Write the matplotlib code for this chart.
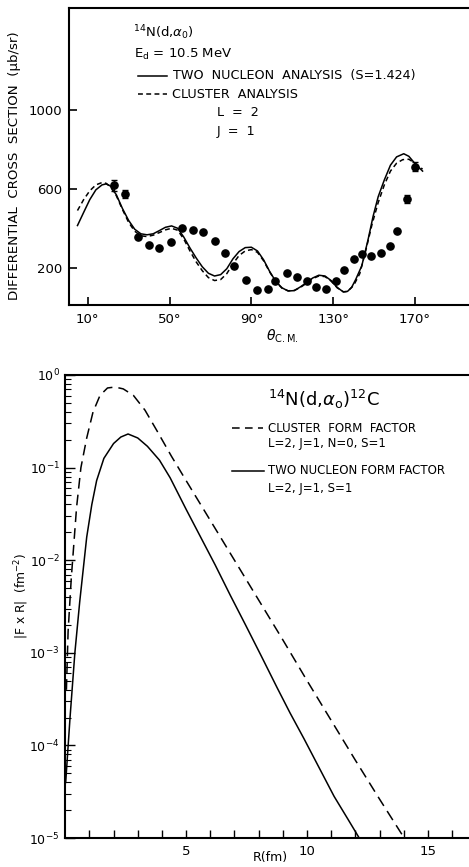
import numpy as np
import matplotlib
matplotlib.use("Agg")
import matplotlib.pyplot as plt
from matplotlib.ticker import FixedLocator, NullFormatter, LogLocator

# ---------------- data: top panel ----------------
exp_theta = [22.9, 28.4, 34.4, 39.8, 44.9, 50.8, 56.1, 61.6, 66.6, 72.4, 77.3, 81.5,
             87.5, 92.7, 97.9, 101.6, 107.4, 112.4, 117.3, 121.7, 126.7, 131.4, 135.2,
             140.1, 144.1, 148.3, 153.2, 157.9, 161.1, 166.0, 170.2]
exp_sigma = [617, 575, 355, 317, 299, 332, 400, 393, 380, 334, 275, 208,
             138, 87, 91, 133, 172, 152, 133, 104, 94, 133, 189,
             245, 270, 258, 273, 309, 388, 549, 713]
err_theta = [22.9, 28.4, 166.0, 170.2]
err_sigma = [617, 575, 549, 713]
err_size = [28, 20, 20, 22]

two_theta = [5, 8, 11, 14, 17, 19, 21, 24, 27, 30, 33, 36, 39, 42, 45, 48, 51, 54, 57,
             60, 63, 66, 69, 72, 75, 78, 81, 84, 87, 90, 93, 96, 99, 102, 105, 108, 111,
             114, 117, 120, 123, 126, 129, 132, 135, 137, 139, 141, 144, 147, 149.5, 152,
             155, 158, 161, 164.5, 167, 170, 173.7]
two_sigma = [414, 480, 545, 595, 620, 625, 615, 570, 500, 440, 395, 372, 367, 372, 388,
             405, 412, 400, 355, 300, 250, 205, 172, 158, 165, 195, 245, 282, 302, 304,
             285, 240, 180, 130, 98, 82, 84, 103, 125, 148, 162, 158, 135, 100, 77, 80,
             100, 140, 210, 340, 460, 560, 645, 720, 762, 778, 765, 728, 690]

clu_theta = [5, 8, 11, 14, 17, 19, 21, 24, 27, 30, 33, 36, 39, 42, 45, 48, 51, 54, 57,
             60, 63, 66, 69, 72, 75, 78, 81, 84, 87, 90, 93, 96, 99, 102, 105, 108, 111,
             114, 117, 120, 123, 126, 129, 132, 135, 137, 140, 143, 146, 149, 152, 155,
             158, 161, 164, 167, 170, 173.7]
clu_sigma = [490, 545, 590, 620, 632, 628, 612, 565, 495, 430, 385, 362, 358, 365, 378,
             392, 400, 390, 345, 285, 230, 185, 150, 135, 140, 170, 220, 262, 285, 292,
             278, 235, 178, 128, 96, 83, 85, 100, 122, 145, 158, 155, 132, 98, 78, 80,
             110, 170, 290, 420, 530, 620, 690, 730, 748, 750, 730, 700]

top_yticks = [200, 600, 1000]
top_xticks = [10, 50, 90, 130, 170]
top_xticklabels = ["10°", "50°", "90°", "130°", "170°"]

# ---------------- data: bottom panel ----------------
ff_two_R = [0.02, 0.2, 0.4, 0.6, 0.89, 1.1, 1.3, 1.6, 2.0, 2.3, 2.6, 3.0, 3.4, 3.9,
            4.34, 5.0, 5.6, 6.2, 6.83, 7.46, 8.1, 8.77, 9.3, 9.88, 10.5, 11.12, 11.7, 12.16]
ff_two_log = [-4.4, -3.7, -3.0, -2.45, -1.75, -1.4, -1.14, -0.9, -0.74, -0.67, -0.637,
              -0.68, -0.77, -0.92, -1.11, -1.45, -1.75, -2.05, -2.38, -2.70, -3.03,
              -3.38, -3.65, -3.93, -4.24, -4.55, -4.80, -5.0]

ff_clu_R = [0.05, 0.12, 0.25, 0.47, 0.65, 0.89, 1.15, 1.44, 1.75, 2.06, 2.4, 2.82, 3.3,
            3.79, 4.4, 5.0, 6.0, 7.0, 8.0, 9.0, 10.0, 11.0, 12.0, 13.0, 14.02]
ff_clu_log = [-3.4, -2.77, -2.2, -1.43, -1.0, -0.68, -0.4, -0.22, -0.14, -0.13, -0.15,
              -0.22, -0.38, -0.6, -0.88, -1.14, -1.57, -2.0, -2.43, -2.86, -3.3, -3.73,
              -4.16, -4.58, -5.0]

bot_xticks_major = [5, 10, 15]

# ---------------- figure ----------------
W, H = 469, 867
fig = plt.figure(figsize=(W / 100, H / 100), dpi=100)
plt.rcParams['font.family'] = ['DejaVu Sans']

def fx(px):
    return px / W

def fy(py):
    return 1 - py / H

# top axes
axT = fig.add_axes([fx(69), fy(305), 1 - fx(69), fy(8) - fy(305)])
axT.set_xlim(0.86, 196.4)
axT.set_ylim(11, 1517)
axT.plot(two_theta, two_sigma, color='black', lw=1.1, solid_joinstyle='round')
axT.plot(clu_theta, clu_sigma, color='black', lw=1.1, ls=(0, (3.2, 2.2)))
axT.plot(exp_theta, exp_sigma, 'o', color='black', ms=5.2)
axT.errorbar(err_theta, err_sigma, yerr=err_size, fmt='none', ecolor='black',
             elinewidth=1.0, capsize=2.5)
axT.spines['right'].set_visible(False)
for s in ['left', 'bottom', 'top']:
    axT.spines[s].set_linewidth(1.5)
axT.set_yticks(top_yticks)
axT.set_yticklabels([str(v) for v in top_yticks])
axT.set_xticks(top_xticks)
axT.set_xticklabels(top_xticklabels)
axT.tick_params(axis='both', direction='in', length=6, width=1.2, labelsize=9.5, pad=6)
axT.tick_params(axis='y', pad=5)
axT.tick_params(top=False, right=False)

fig.text(fx(15), fy(166), "DIFFERENTIAL  CROSS  SECTION  (μb/sr)", rotation=90,
         ha='center', va='center', fontsize=9.6)
fig.text(fx(266), fy(336), r"$\theta_{\rm C.M.}$", ha='left', va='center', fontsize=10)

# top annotations
fig.text(fx(133), fy(33), r"$^{14}$N(d,$\alpha_0$)", ha='left', va='center', fontsize=9.5)
fig.text(fx(134), fy(54), r"E$_{\rm d}$ = 10.5 MeV", ha='left', va='center', fontsize=9.5)
fig.add_artist(plt.Line2D([fx(138), fx(167)], [fy(76), fy(76)], color='black', lw=1.1))
fig.text(fx(173), fy(76), "TWO  NUCLEON  ANALYSIS  (S=1.424)", ha='left', va='center',
         fontsize=9.2)
fig.add_artist(plt.Line2D([fx(138), fx(167)], [fy(94), fy(94)], color='black', lw=1.1,
                          ls=(0, (3.2, 2.2))))
fig.text(fx(172), fy(94), "CLUSTER  ANALYSIS", ha='left', va='center', fontsize=9.2)
fig.text(fx(217), fy(113), "L  =  2", ha='left', va='center', fontsize=9.2)
fig.text(fx(217), fy(131), "J  =  1", ha='left', va='center', fontsize=9.2)

# bottom axes
axB = fig.add_axes([fx(65.2), fy(838), 1 - fx(65.2), fy(375) - fy(838)])
axB.set_yscale('log')
axB.set_xlim(0, 16.7)
axB.set_ylim(1e-5, 1e0)
axB.plot(ff_two_R, 10 ** np.array(ff_two_log), color='black', lw=1.1)
axB.plot(ff_clu_R, 10 ** np.array(ff_clu_log), color='black', lw=1.1, ls=(0, (7, 4)))
axB.spines['right'].set_visible(False)
for s in ['left', 'bottom', 'top']:
    axB.spines[s].set_linewidth(1.5)
axB.xaxis.set_major_locator(FixedLocator(bot_xticks_major))
axB.xaxis.set_minor_locator(FixedLocator([v for v in range(1, 17) if v not in bot_xticks_major]))
axB.yaxis.set_major_locator(LogLocator(base=10, numticks=10))
axB.yaxis.set_minor_locator(LogLocator(base=10, subs=np.arange(2, 10), numticks=10))
axB.yaxis.set_minor_formatter(NullFormatter())
axB.tick_params(axis='x', which='both', direction='in', length=6, width=1.0,
                labelsize=9.5, pad=5, top=False)
axB.tick_params(axis='y', which='major', direction='in', length=7, width=1.0,
                labelsize=9, pad=4, right=False)
axB.tick_params(axis='y', which='minor', direction='in', length=4, width=0.8, right=False)

fig.text(fx(22), fy(596), r"|F x R|  (fm$^{-2}$)", rotation=90, ha='center', va='center',
         fontsize=8.8)
fig.text(fx(270), fy(858), "R(fm)", ha='center', va='center', fontsize=9)

# bottom annotations
fig.text(fx(268), fy(399), r"$^{14}$N(d,$\alpha_{\rm o}$)$^{12}$C", ha='left', va='center',
         fontsize=13)
fig.add_artist(plt.Line2D([fx(232), fx(263)], [fy(428), fy(428)], color='black', lw=1.1,
                          ls=(0, (5, 3.5))))
fig.text(fx(268), fy(428), "CLUSTER  FORM  FACTOR", ha='left', va='center', fontsize=8.5)
fig.text(fx(268), fy(444), "L=2, J=1, N=0, S=1", ha='left', va='center', fontsize=8.5)
fig.add_artist(plt.Line2D([fx(232), fx(264)], [fy(471), fy(471)], color='black', lw=1.1))
fig.text(fx(268), fy(471), "TWO NUCLEON FORM FACTOR", ha='left', va='center', fontsize=8.5)
fig.text(fx(268), fy(488), "L=2, J=1, S=1", ha='left', va='center', fontsize=8.5)

fig.savefig("out.png", dpi=100)
